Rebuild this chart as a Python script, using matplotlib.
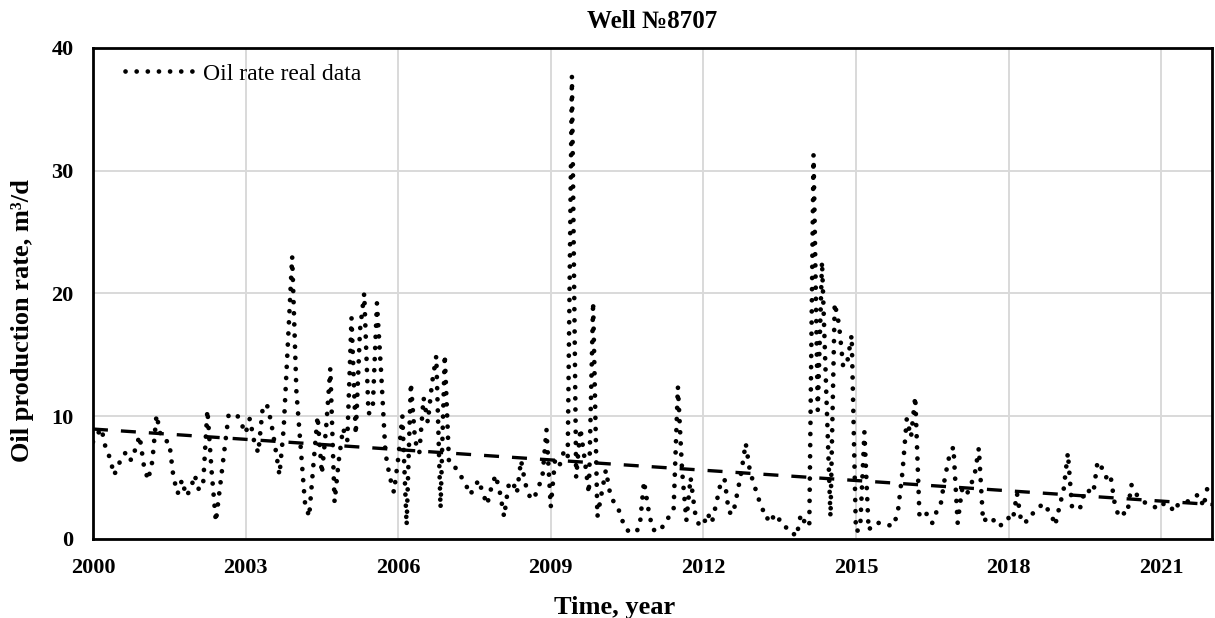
import numpy as np
import matplotlib
matplotlib.use("Agg")
import matplotlib.pyplot as plt

plt.rcParams["font.family"] = ["Liberation Serif", "DejaVu Serif"]

# monthly oil rate, m3/d, Jan 2000 .. Dec 2021
oil_rate = [
    7.9, 8.5, 9.0, 7.4, 6.6, 5.2, 6.0, 6.8, 7.1, 6.4, 7.3, 8.4,        # 2000
    6.0, 4.8, 6.3, 10.1, 8.4, 8.0, 7.9, 5.0, 3.7, 4.8, 3.5, 4.0,       # 2001
    5.2, 4.0, 4.5, 10.5, 5.5, 1.4, 4.3, 7.2, 10.1, 10.1, 10.1, 9.4,    # 2002
    8.6, 9.8, 8.0, 7.0, 10.5, 11.0, 9.6, 7.5, 5.2, 9.0, 16.0, 23.0,    # 2003
    12.0, 7.5, 3.0, 1.8, 6.0, 10.0, 5.3, 9.0, 13.9, 3.0, 6.4, 9.0,     # 2004
    8.0, 18.0, 8.5, 17.0, 20.0, 10.2, 10.5, 19.2, 13.5, 7.0, 5.1, 3.8,  # 2005
    6.5, 10.0, 1.1, 12.7, 8.0, 7.0, 11.5, 9.5, 12.7, 14.9, 2.5, 15.0,   # 2006
    6.2, 6.0, 5.6, 5.0, 4.4, 3.6, 4.2, 4.8, 3.7, 2.8, 4.2, 5.2,        # 2007
    3.8, 1.8, 4.3, 4.7, 3.7, 6.4, 4.5, 3.5, 3.2, 4.2, 4.9, 8.9,        # 2008
    2.6, 6.4, 5.9, 7.0, 6.5, 37.7, 5.0, 9.0, 6.5, 3.7, 19.3, 1.8,      # 2009
    3.7, 5.6, 3.7, 2.9, 2.4, 1.4, 0.7, 0.6, 0.5, 1.0, 4.7, 2.5,        # 2010
    0.8, 0.6, 0.7, 1.5, 1.8, 2.5, 12.4, 5.5, 1.5, 5.0, 2.2, 1.1,       # 2011
    1.1, 2.1, 1.3, 2.8, 4.4, 4.9, 2.2, 2.0, 3.7, 5.5, 7.8, 5.5,        # 2012
    4.4, 3.3, 2.4, 1.6, 2.1, 1.3, 1.6, 1.3, 0.6, 0.5, 0.2, 2.0,        # 2013
    1.3, 1.0, 31.3, 10.5, 22.6, 12.0, 1.8, 19.2, 17.5, 14.0, 14.5, 16.6,  # 2014
    0.6, 0.8, 8.7, 0.7, 1.2, 1.3, 1.3, 1.2, 1.1, 1.1, 2.5, 5.5,        # 2015
    9.8, 8.3, 11.6, 1.8, 2.1, 2.0, 1.3, 2.2, 2.8, 5.0, 6.7, 7.5,       # 2016
    1.3, 4.0, 3.5, 4.3, 5.2, 7.4, 1.4, 1.7, 1.8, 1.2, 1.0, 1.6,        # 2017
    1.7, 1.5, 3.7, 1.4, 1.3, 2.0, 2.1, 2.4, 2.9, 2.5, 2.1, 1.1,        # 2018
    2.6, 4.0, 7.0, 2.5, 2.4, 2.6, 4.0, 3.9, 3.7, 6.3, 5.8, 5.0,        # 2019
    5.3, 3.0, 1.8, 2.1, 2.0, 4.4, 3.7, 3.3, 3.0, 2.8, 2.7, 2.5,        # 2020
    2.9, 2.8, 2.8, 2.2, 2.8, 2.9, 3.0, 3.2, 3.5, 3.6, 2.6, 4.3,        # 2021
]
start_year = 2000

# linear trend end points
trend_years = [2000, 2022]
trend_rate = [8.95, 2.8]

year_ticks = [2000, 2003, 2006, 2009, 2012, 2015, 2018, 2021]
rate_ticks = [0, 10, 20, 30, 40]

t = start_year + np.arange(len(oil_rate)) / 12.0

fig = plt.figure(figsize=(12.15, 6.18), dpi=100)
ax = fig.add_axes([0.0765, 0.128, 0.921, 0.7945])

ax.plot(trend_years, trend_rate, color="black", linewidth=2.4,
        linestyle=(0, (4.5, 3.9)), zorder=2)
ax.plot(t, oil_rate, color="black", linewidth=3.4,
        linestyle=(0, (0.01, 2.35)), dash_capstyle="round",
        label="Oil rate real data", zorder=3)

ax.set_xlim(2000, 2022)
ax.set_ylim(0, 40)
ax.set_xticks(year_ticks)
ax.set_yticks(rate_ticks)
ax.tick_params(length=0, labelsize=16, pad=14)
for lbl in ax.get_xticklabels() + ax.get_yticklabels():
    lbl.set_fontweight("bold")

ax.grid(True, color="#d9d9d9", linewidth=1.4, zorder=0)
ax.set_axisbelow(True)
for sp in ax.spines.values():
    sp.set_linewidth(2.0)
    sp.set_color("black")

ax.set_title("Well №8707", fontsize=18, fontweight="bold", pad=14)
ax.set_xlabel("Time, year", fontsize=19, fontweight="bold")
ax.set_ylabel("Oil production rate, m³/d", fontsize=19, fontweight="bold")
ax.xaxis.set_label_coords(0.466, -0.117)
ax.yaxis.set_label_coords(-0.0527, 0.444)

ax.legend(loc="upper left", frameon=False, fontsize=17, handlelength=2.95,
          handletextpad=0.35, borderpad=0, borderaxespad=0,
          bbox_to_anchor=(0.0286, 0.969))

fig.savefig("out.png", dpi=100)
